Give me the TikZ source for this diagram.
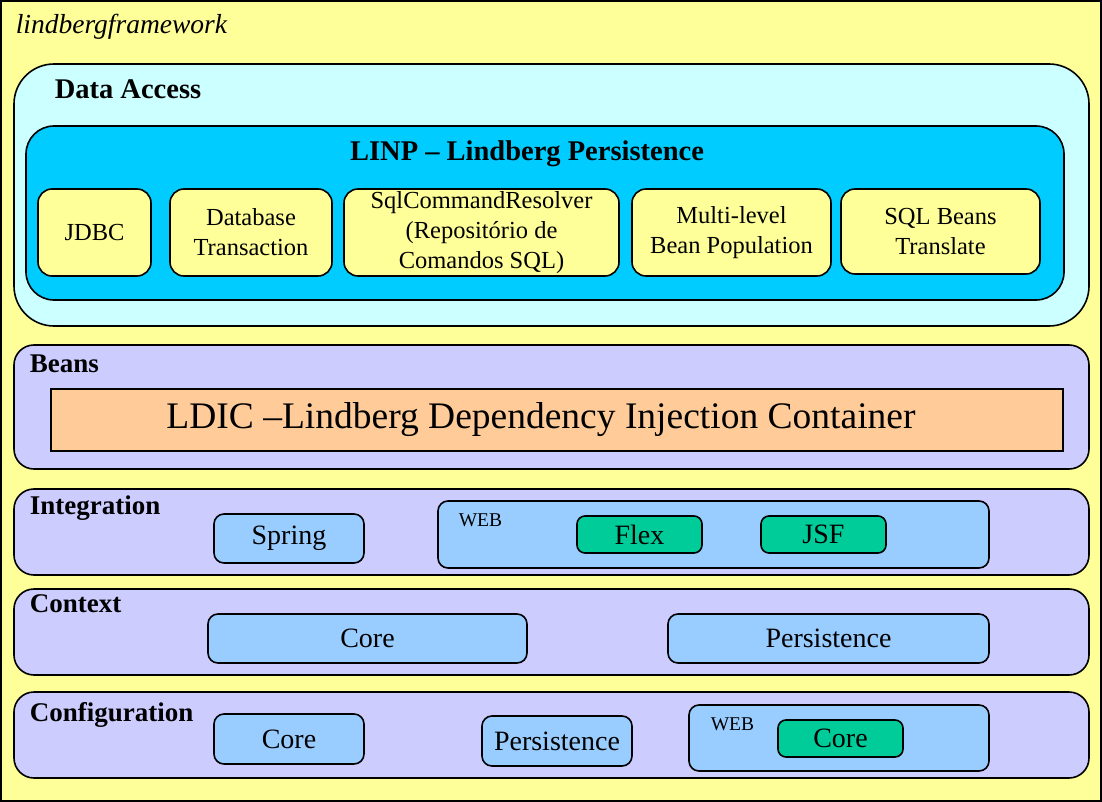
\documentclass[tikz,border=0pt]{standalone}
\usepackage{fontspec}
\setmainfont{Liberation Serif}
\definecolor{fwyellow}{HTML}{FFFF99}
\definecolor{dacyan}{HTML}{CCFFFF}
\definecolor{linpcyan}{HTML}{00CCFF}
\definecolor{layerlav}{HTML}{CCCCFF}
\definecolor{ldicpeach}{HTML}{FFCC99}
\definecolor{partblue}{HTML}{99CCFF}
\definecolor{leafgreen}{HTML}{00CC99}
\begin{document}
\begin{tikzpicture}[x=1pt, y=-1pt, line width=1.6pt,
	blk/.style={draw, inner sep=0pt, align=center},
	item/.style={blk, fill=fwyellow, rounded corners=14pt, minimum height=87pt, font=\fontsize{24.5}{30}\selectfont},
	layer/.style={blk, fill=layerlav, rounded corners=20pt, minimum width=1075pt, minimum height=86pt},
	part/.style={blk, fill=partblue, rounded corners=10pt, font=\fontsize{28}{32}\selectfont},
	leaf/.style={blk, fill=leafgreen, rounded corners=8pt, minimum width=125pt, minimum height=37pt, font=\fontsize{28}{32}\selectfont},
	title/.style={anchor=base west, inner sep=0pt, font=\fontsize{27}{32}\selectfont\bfseries},
	small/.style={anchor=west, inner sep=0pt, font=\fontsize{19.5}{23}\selectfont}]
	\useasboundingbox (0,0) rectangle (1102,802);
	% frame
	\draw[fill=fwyellow] (1,1) rectangle (1101,801);
	\node[anchor=base west, inner sep=0pt, font=\fontsize{27.5}{32}\selectfont\itshape] (fw) at (15,34) {lindbergframework};
	
	% data access
	\node[blk, fill=dacyan, rounded corners=40pt, minimum width=1075pt, minimum height=262pt] (da) at (551.5,195) {};
	\node[title, font=\fontsize{28.5}{34}\selectfont\bfseries] (datitle) at (54,99) {Data Access};
	\node[blk, fill=linpcyan, rounded corners=28pt, minimum width=1038pt, minimum height=174pt] (linp) at (545,213) {};
	\node[anchor=base, inner sep=0pt, font=\fontsize{28.5}{34}\selectfont\bfseries] (linptitle) at (527,161) {LINP -- Lindberg Persistence};
	\node[item, minimum width=113pt] (jdbc) at (94.5,232.5) {JDBC};
	\node[item, minimum width=162pt] (dbtx) at (251,232.5) {Database\\Transaction};
	\node[item, minimum width=275pt] (sqlres) at (481.5,232.5) {SqlCommandResolver\\(Repositório de\\Comandos SQL)};
	\node[item, minimum width=199pt] (multi) at (731.5,232.5) {Multi-level\\Bean Population};
	\node[item, minimum width=199pt, minimum height=85pt] (sqlbeans) at (940.5,231.5) {SQL Beans\\Translate};
	
	% beans
	\node[layer, minimum height=124pt] (beans) at (551.5,407) {};
	\node[title] (beanstitle) at (29,372) {Beans};
	\node[blk, fill=ldicpeach, minimum width=1012pt, minimum height=62pt] (ldic) at (557,420) {};
	\node[inner sep=0pt, font=\fontsize{37.5}{44}\selectfont] (ldictext) at (541,420) {LDIC --Lindberg Dependency Injection Container};
	
	% integration
	\node[layer] (integ) at (551.5,532) {};
	\node[title] (integtitle) at (29,514.5) {Integration};
	\node[part, minimum width=150pt, minimum height=49pt] (spring) at (289,538.5) {Spring};
	\node[part, minimum width=551pt, minimum height=67pt] (intweb) at (713.5,534.5) {};
	\node[small] (intwebtitle) at (458,520) {WEB};
	\node[leaf] (flex) at (639.5,534.5) {Flex};
	\node[leaf] (jsf) at (823.5,534.5) {JSF};
	
	% context
	\node[layer] (ctx) at (551.5,632) {};
	\node[title] (ctxtitle) at (29,612.5) {Context};
	\node[part, minimum width=319pt, minimum height=49pt] (ctxcore) at (367.5,638.5) {Core};
	\node[part, minimum width=321pt, minimum height=49pt] (ctxpers) at (828.5,638.5) {Persistence};
	
	% configuration
	\node[layer] (conf) at (551.5,735) {};
	\node[title] (conftitle) at (29,721.5) {Configuration};
	\node[part, minimum width=150pt, minimum height=50pt] (confcore) at (289,739) {Core};
	\node[part, minimum width=150pt, minimum height=50pt] (confpers) at (557,741) {Persistence};
	\node[part, minimum width=300pt, minimum height=66pt] (confweb) at (839,738) {};
	\node[small] (confwebtitle) at (710,724) {WEB};
	\node[leaf] (confwebcore) at (840.5,738.5) {Core};
\end{tikzpicture}
\end{document}
